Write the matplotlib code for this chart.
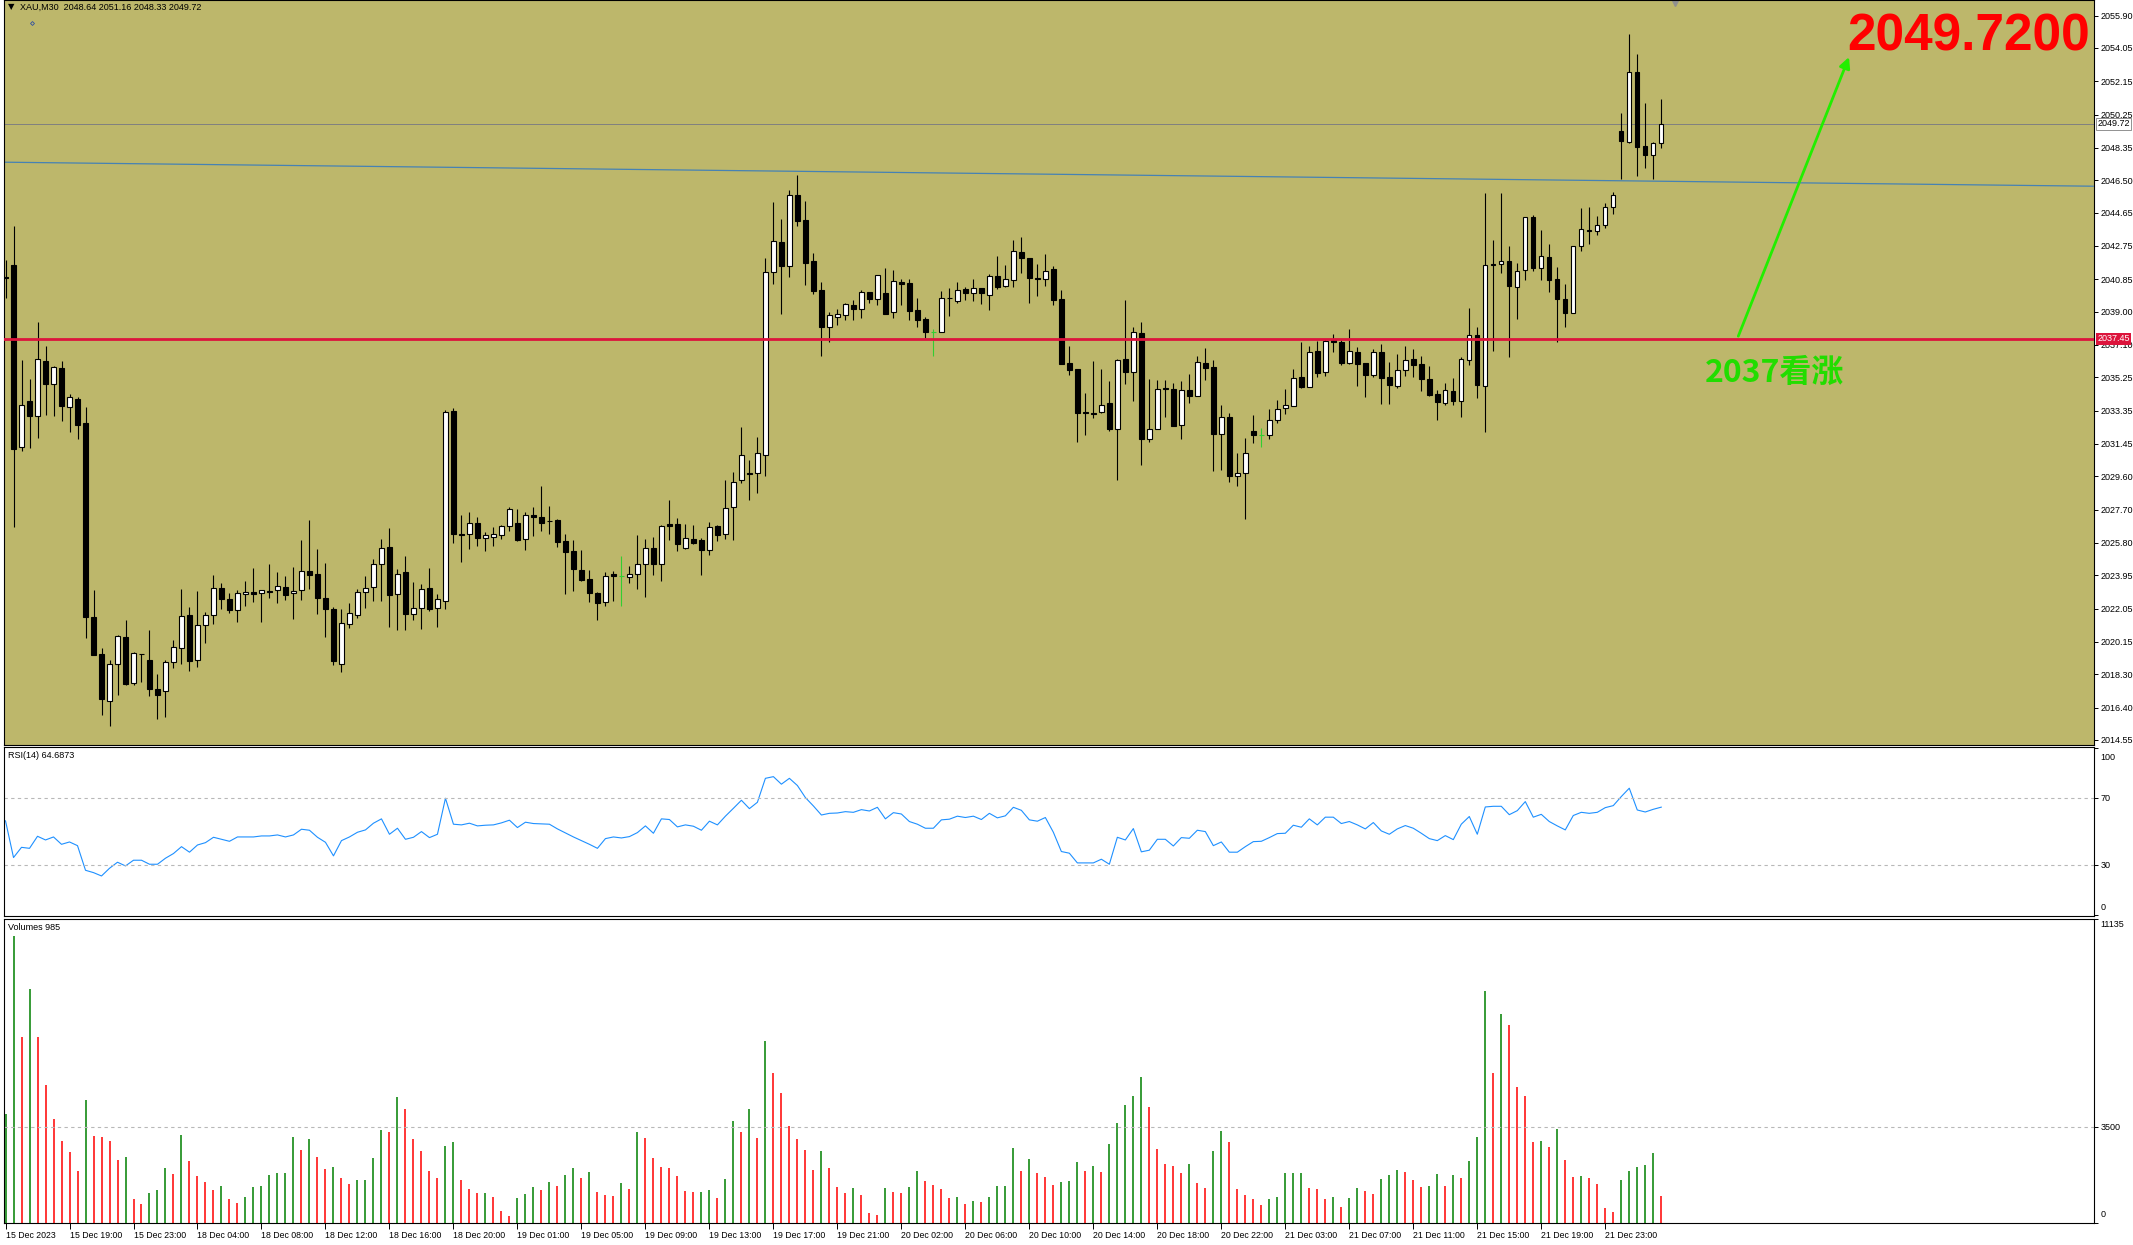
import matplotlib
matplotlib.use("Agg")
import matplotlib.pyplot as plt
import numpy as np

plt.rcParams['font.family'] = ['Liberation Sans', 'DejaVu Sans']

# XAU M30 candles
opens = [2040.95, 2041.67, 2031.26, 2033.90, 2033.07, 2036.19, 2034.89, 2035.79, 2033.58, 2034.02,
         2032.65, 2021.57, 2019.46, 2016.80, 2018.87, 2020.43, 2017.79, 2019.48, 2019.12, 2017.47,
         2017.33, 2019.01, 2019.79, 2021.69, 2019.10, 2021.10, 2021.67, 2023.21, 2022.60, 2021.96,
         2022.87, 2022.98, 2022.93, 2023.04, 2023.10, 2023.29, 2022.93, 2023.10, 2024.18, 2024.01,
         2022.66, 2022.03, 2018.90, 2021.19, 2021.70, 2022.98, 2023.30, 2024.57, 2025.54, 2022.90,
         2024.12, 2021.76, 2022.06, 2023.21, 2022.06, 2022.50, 2033.33, 2026.31, 2026.29, 2026.91,
         2026.10, 2026.16, 2026.23, 2026.74, 2026.91, 2026.04, 2027.37, 2027.28, 2027.07, 2027.09,
         2025.91, 2025.34, 2024.23, 2023.72, 2022.92, 2022.41, 2024.00, 2023.89, 2023.83, 2024.00,
         2024.57, 2025.49, 2024.57, 2026.86, 2026.86, 2025.53, 2026.01, 2025.97, 2025.38, 2026.77,
         2026.29, 2027.83, 2029.38, 2029.81, 2029.81, 2030.80, 2041.29, 2042.98, 2041.63, 2045.66,
         2044.24, 2041.89, 2040.24, 2038.15, 2038.72, 2038.83, 2039.38, 2039.17, 2040.13, 2039.71,
         2040.05, 2038.97, 2040.68, 2040.64, 2039.08, 2038.58, 2037.86, 2037.86, 2039.79, 2039.63,
         2040.28, 2040.05, 2040.34, 2039.97, 2041.02, 2040.45, 2040.79, 2042.39, 2042.05, 2040.92,
         2040.85, 2041.44, 2039.73, 2036.05, 2035.73, 2033.28, 2033.24, 2033.29, 2033.79, 2032.29,
         2036.30, 2035.58, 2037.79, 2031.72, 2032.32, 2034.65, 2034.59, 2032.55, 2034.53, 2034.21,
         2036.07, 2035.84, 2032.04, 2032.99, 2029.59, 2029.77, 2032.19, 2031.96, 2031.93, 2032.80,
         2033.48, 2033.60, 2035.25, 2034.72, 2036.76, 2035.58, 2037.36, 2037.25, 2036.09, 2036.68,
         2036.05, 2035.40, 2036.68, 2035.25, 2034.74, 2035.65, 2036.28, 2035.99, 2035.14, 2034.28,
         2033.80, 2034.49, 2033.92, 2036.22, 2037.65, 2034.74, 2041.70, 2041.70, 2041.87, 2040.38,
         2041.36, 2044.38, 2041.47, 2042.10, 2040.84, 2039.70, 2038.90, 2042.73, 2043.64, 2043.58,
         2043.93, 2044.95, 2049.29, 2048.68, 2052.66, 2048.45, 2047.96, 2048.64]
highs = [2041.95, 2043.89, 2036.24, 2035.16, 2038.41, 2037.04, 2035.90, 2036.19, 2034.30, 2034.13,
         2033.56, 2023.12, 2019.82, 2019.12, 2020.55, 2021.40, 2019.58, 2019.48, 2020.83, 2018.32,
         2019.12, 2020.26, 2023.17, 2022.11, 2023.06, 2021.88, 2023.97, 2023.52, 2022.94, 2023.12,
         2023.63, 2024.37, 2023.10, 2024.60, 2024.14, 2023.93, 2024.45, 2025.97, 2027.11, 2025.46,
         2024.66, 2022.14, 2022.03, 2022.35, 2023.15, 2023.89, 2024.88, 2026.02, 2026.63, 2024.31,
         2025.05, 2023.57, 2023.45, 2024.37, 2022.88, 2033.38, 2033.48, 2027.39, 2027.56, 2027.28,
         2026.44, 2026.71, 2026.82, 2027.85, 2027.73, 2027.56, 2027.85, 2029.05, 2027.90, 2027.16,
         2026.31, 2025.96, 2025.39, 2024.23, 2022.98, 2024.12, 2024.17, 2025.03, 2024.48, 2026.25,
         2026.02, 2026.14, 2026.82, 2028.25, 2027.21, 2026.88, 2026.83, 2026.07, 2026.98, 2026.81,
         2029.38, 2029.83, 2032.42, 2030.54, 2031.85, 2042.05, 2045.26, 2044.27, 2045.95, 2046.80,
         2045.32, 2042.35, 2040.70, 2038.97, 2039.16, 2039.52, 2039.67, 2040.24, 2040.13, 2041.08,
         2041.51, 2041.38, 2040.87, 2040.87, 2039.76, 2038.70, 2038.01, 2040.18, 2040.35, 2040.70,
         2040.43, 2040.87, 2040.34, 2041.15, 2042.18, 2041.67, 2043.09, 2043.26, 2042.05, 2041.70,
         2042.29, 2041.59, 2040.24, 2037.04, 2035.73, 2034.36, 2036.19, 2035.73, 2035.05, 2036.30,
         2039.67, 2038.13, 2038.41, 2035.16, 2035.10, 2035.10, 2034.93, 2035.05, 2035.44, 2036.47,
         2036.93, 2036.24, 2033.68, 2033.22, 2030.94, 2031.79, 2033.10, 2032.34, 2033.45, 2033.94,
         2034.59, 2035.73, 2037.27, 2037.04, 2037.33, 2037.44, 2037.72, 2037.36, 2038.01, 2036.98,
         2036.05, 2036.85, 2037.13, 2036.11, 2036.56, 2037.02, 2036.85, 2036.45, 2035.88, 2034.55,
         2034.95, 2035.19, 2036.39, 2039.19, 2038.10, 2045.75, 2043.09, 2045.75, 2042.75, 2041.77,
         2044.38, 2044.50, 2043.66, 2042.86, 2041.53, 2040.56, 2042.73, 2044.91, 2044.97, 2044.46,
         2045.20, 2045.83, 2050.34, 2054.85, 2053.70, 2050.91, 2048.70, 2051.16]
lows = [2039.80, 2026.73, 2031.07, 2031.24, 2031.81, 2033.10, 2033.07, 2032.78, 2032.15, 2031.75,
        2020.34, 2019.37, 2016.00, 2015.33, 2017.14, 2017.71, 2017.67, 2017.88, 2017.03, 2015.73,
        2015.85, 2018.63, 2018.91, 2018.46, 2018.74, 2020.07, 2021.14, 2022.00, 2021.82, 2021.31,
        2022.18, 2022.45, 2021.27, 2022.64, 2022.34, 2022.51, 2021.48, 2022.56, 2023.15, 2021.71,
        2020.45, 2018.80, 2018.40, 2020.92, 2021.53, 2022.10, 2022.50, 2022.50, 2021.02, 2020.83,
        2020.83, 2021.42, 2020.88, 2021.93, 2021.00, 2022.04, 2025.81, 2024.73, 2025.47, 2025.64,
        2025.36, 2025.64, 2026.02, 2026.50, 2025.93, 2025.41, 2026.21, 2026.50, 2026.33, 2025.58,
        2022.90, 2023.07, 2023.64, 2022.44, 2021.42, 2022.22, 2022.50, 2022.22, 2023.53, 2023.19,
        2022.73, 2023.99, 2023.64, 2025.97, 2025.36, 2025.46, 2025.74, 2023.97, 2025.11, 2025.93,
        2026.03, 2025.97, 2029.20, 2028.22, 2028.67, 2029.59, 2040.60, 2038.87, 2041.00, 2043.91,
        2040.53, 2040.03, 2036.47, 2037.29, 2038.24, 2038.53, 2038.53, 2038.66, 2039.50, 2039.35,
        2038.89, 2038.66, 2039.38, 2038.53, 2038.15, 2037.48, 2036.47, 2037.86, 2038.76, 2039.52,
        2039.67, 2039.63, 2039.46, 2039.12, 2040.30, 2040.39, 2040.43, 2041.23, 2039.52, 2039.90,
        2040.49, 2039.40, 2036.03, 2035.39, 2031.58, 2031.96, 2032.95, 2033.24, 2032.21, 2029.36,
        2034.89, 2033.87, 2030.27, 2031.53, 2032.32, 2033.01, 2032.46, 2031.75, 2033.81, 2034.21,
        2035.12, 2029.93, 2029.98, 2029.30, 2029.07, 2027.19, 2031.52, 2031.30, 2031.75, 2032.67,
        2033.16, 2033.60, 2034.66, 2034.72, 2035.29, 2035.35, 2036.71, 2035.97, 2036.03, 2034.77,
        2034.15, 2035.29, 2033.75, 2033.75, 2034.66, 2035.35, 2035.29, 2034.49, 2034.20, 2032.83,
        2033.69, 2033.69, 2033.00, 2035.97, 2034.09, 2032.11, 2036.77, 2041.19, 2036.43, 2038.60,
        2040.80, 2041.30, 2040.80, 2040.14, 2037.25, 2038.10, 2038.90, 2042.44, 2042.88, 2043.36,
        2043.75, 2044.55, 2046.59, 2048.64, 2046.76, 2047.22, 2046.59, 2048.33]
closes = [2040.90, 2031.16, 2033.66, 2033.07, 2036.28, 2034.89, 2035.83, 2033.64, 2034.11, 2032.55,
          2021.54, 2019.41, 2016.86, 2018.87, 2020.47, 2017.77, 2019.50, 2019.46, 2017.45, 2017.14,
          2018.99, 2019.84, 2021.61, 2019.08, 2021.10, 2021.69, 2023.21, 2022.58, 2021.94, 2022.94,
          2022.98, 2022.87, 2023.10, 2022.98, 2023.33, 2022.85, 2023.04, 2024.18, 2023.95, 2022.68,
          2022.00, 2019.03, 2021.21, 2021.78, 2022.98, 2023.21, 2024.57, 2025.49, 2022.84, 2024.00,
          2021.76, 2022.06, 2023.15, 2022.04, 2022.58, 2033.25, 2026.33, 2026.25, 2026.91, 2026.10,
          2026.23, 2026.29, 2026.74, 2027.71, 2025.98, 2027.37, 2027.26, 2026.95, 2027.03, 2025.87,
          2025.30, 2024.33, 2023.70, 2022.96, 2022.39, 2023.89, 2023.93, 2023.89, 2024.00, 2024.57,
          2025.49, 2024.57, 2026.74, 2026.79, 2025.72, 2026.07, 2025.82, 2025.42, 2026.69, 2026.27,
          2027.78, 2029.26, 2030.80, 2029.75, 2030.92, 2041.25, 2043.04, 2041.61, 2045.66, 2044.20,
          2041.80, 2040.20, 2038.15, 2038.79, 2038.87, 2039.42, 2039.16, 2040.13, 2039.73, 2041.08,
          2038.89, 2040.73, 2040.60, 2039.06, 2038.53, 2037.86, 2037.86, 2039.76, 2039.75, 2040.22,
          2040.09, 2040.34, 2040.05, 2041.02, 2040.43, 2040.85, 2042.45, 2042.08, 2040.94, 2040.87,
          2041.30, 2039.69, 2036.03, 2035.69, 2033.24, 2033.24, 2033.16, 2033.66, 2032.32, 2036.24,
          2035.58, 2037.84, 2031.75, 2032.29, 2034.59, 2034.57, 2032.46, 2034.53, 2034.21, 2036.13,
          2035.81, 2032.04, 2032.99, 2029.59, 2029.79, 2030.94, 2031.98, 2031.96, 2032.80, 2033.43,
          2033.66, 2035.20, 2034.72, 2036.68, 2035.52, 2037.33, 2037.25, 2036.09, 2036.73, 2036.03,
          2035.36, 2036.68, 2035.23, 2034.79, 2035.65, 2036.22, 2035.97, 2035.17, 2034.26, 2033.86,
          2034.55, 2033.92, 2036.28, 2037.65, 2034.83, 2041.64, 2041.64, 2041.87, 2040.44, 2041.30,
          2044.38, 2041.47, 2042.16, 2040.79, 2039.70, 2038.90, 2042.73, 2043.70, 2043.58, 2043.93,
          2044.95, 2045.64, 2048.72, 2052.66, 2048.42, 2047.96, 2048.62, 2049.72]

rsi = [56.5, 34.6, 40.7, 40.1, 47.3, 45.1, 46.9, 42.5, 43.9, 41.7,
       27.0, 25.6, 23.6, 28.2, 31.8, 29.6, 33.0, 33.0, 30.6, 30.6,
       34.2, 37.0, 41.1, 37.8, 42.1, 43.5, 46.7, 45.5, 44.3, 46.9,
       46.9, 46.9, 47.5, 47.5, 48.1, 46.9, 48.1, 51.5, 50.9, 46.7,
       43.7, 35.6, 44.7, 46.9, 49.7, 51.1, 55.1, 57.7, 48.5, 52.1,
       45.5, 46.7, 50.1, 46.5, 48.5, 70.0, 54.5, 54.1, 55.1, 53.5,
       53.9, 54.1, 55.3, 56.9, 52.5, 55.7, 54.9, 54.7, 54.5, 51.7,
       49.3, 46.9, 44.7, 42.5, 40.1, 45.9, 46.9, 46.3, 47.1, 49.5,
       53.5, 49.1, 57.7, 57.3, 52.9, 54.1, 53.3, 50.9, 56.3, 54.1,
       59.3, 64.0, 68.8, 63.8, 67.6, 81.9, 82.9, 78.4, 81.9, 77.6,
       70.4, 65.4, 60.0, 61.0, 61.2, 62.0, 61.6, 63.2, 62.4, 64.6,
       57.7, 61.4, 60.6, 56.1, 54.5, 52.1, 52.1, 57.1, 57.5, 59.3,
       58.5, 59.3, 57.3, 61.0, 58.3, 59.5, 64.6, 62.8, 57.1, 56.3,
       58.5, 49.7, 38.2, 37.2, 31.4, 31.4, 31.4, 33.6, 30.6, 46.7,
       45.1, 51.9, 38.0, 39.0, 45.5, 45.5, 41.5, 46.5, 46.1, 50.9,
       50.1, 41.7, 43.9, 37.8, 37.8, 41.1, 44.1, 44.3, 46.5, 48.9,
       49.1, 53.9, 52.7, 57.7, 54.1, 58.7, 58.7, 54.9, 56.1, 54.1,
       51.7, 55.5, 50.5, 48.5, 51.7, 53.7, 52.1, 49.1, 45.9, 44.7,
       47.7, 45.3, 54.5, 59.1, 48.5, 64.8, 65.2, 65.2, 60.2, 62.6,
       68.0, 58.7, 60.4, 56.1, 53.5, 51.1, 59.7, 61.6, 61.0, 61.6,
       64.4, 65.6, 71.0, 76.0, 63.0, 61.8, 63.4, 64.69]

volumes = [3988, 10524, 6805, 8561, 6805, 5049, 3805, 3000, 2598, 1902,
           4500, 3183, 3146, 3000, 2305, 2415, 878, 695, 1098, 1207,
           2012, 1793, 3219, 2268, 1720, 1500, 1207, 1354, 878, 732,
           951, 1317, 1354, 1756, 1829, 1840, 3146, 2671, 3073, 2415,
           1976, 2049, 1646, 1427, 1573, 1580, 2378, 3402, 3329, 4610,
           4171, 3073, 2634, 1902, 1646, 2817, 2963, 1573, 1244, 1098,
           1100, 951, 439, 256, 915, 1061, 1317, 1207, 1500, 1354,
           1756, 2012, 1646, 1866, 1134, 1024, 988, 1463, 1244, 3329,
           3110, 2378, 2049, 2012, 1720, 1171, 1134, 1140, 1207, 915,
           1610, 3732, 3329, 4171, 3110, 6658, 5488, 4756, 3549, 3073,
           2671, 1939, 2634, 2012, 1317, 1098, 1280, 1024, 366, 293,
           1280, 1134, 1098, 1317, 1902, 1537, 1390, 1244, 915, 951,
           695, 805, 768, 951, 1354, 1360, 2744, 1902, 2341, 1829,
           1683, 1390, 1500, 1537, 2232, 1902, 2085, 1866, 2890, 3659,
           4317, 4646, 5341, 4244, 2707, 2159, 2085, 1829, 2159, 1463,
           1280, 2634, 3366, 2963, 1244, 1024, 878, 659, 878, 951,
           1829, 1835, 1840, 1280, 1244, 878, 951, 585, 915, 1280,
           1171, 1061, 1610, 1756, 1939, 1866, 1573, 1317, 1354, 1793,
           1354, 1756, 1646, 2268, 3146, 8488, 5488, 7646, 7244, 4976,
           4646, 2963, 3000, 2780, 3439, 2305, 1683, 1720, 1646, 1427,
           549, 402, 1573, 1902, 2049, 2122, 2561, 985]

tick_bars = [0, 8, 16, 24, 32, 40, 48, 56, 64, 72, 80, 88, 96,
             104, 112, 120, 128, 136, 144, 152, 160, 168, 176, 184, 192, 200]
time_labels = ['15 Dec 2023', '15 Dec 19:00', '15 Dec 23:00', '18 Dec 04:00', '18 Dec 08:00',
               '18 Dec 12:00', '18 Dec 16:00', '18 Dec 20:00', '19 Dec 01:00', '19 Dec 05:00',
               '19 Dec 09:00', '19 Dec 13:00', '19 Dec 17:00', '19 Dec 21:00', '20 Dec 02:00',
               '20 Dec 06:00', '20 Dec 10:00', '20 Dec 14:00', '20 Dec 18:00', '20 Dec 22:00',
               '21 Dec 03:00', '21 Dec 07:00', '21 Dec 11:00', '21 Dec 15:00', '21 Dec 19:00',
               '21 Dec 23:00']
price_ticks = [2055.90, 2054.05, 2052.15, 2050.25, 2048.35, 2046.50, 2044.65, 2042.75,
               2040.85, 2039.00, 2037.10, 2035.25, 2033.35, 2031.45, 2029.60, 2027.70,
               2025.80, 2023.95, 2022.05, 2020.15, 2018.30, 2016.40, 2014.55]

red_level = 2037.45
bid = 2049.72
trend_x = [0, 261]
trend_y = [2047.53, 2046.16]

assert len(opens) == len(highs) == len(lows) == len(closes) == len(rsi) == len(volumes)

W, H = 2133, 1245
fig = plt.figure(figsize=(W / 100, H / 100), dpi=100)
fig.patch.set_facecolor('white')


def rect(top, bottom):
    # pixel rows of the screenshot -> figure fraction
    return [4 / W, 1 - bottom / H, (2094 - 4) / W, (bottom - top) / H]


ax = fig.add_axes(rect(0, 745))
ax_rsi = fig.add_axes(rect(747, 916), sharex=ax)
ax_vol = fig.add_axes(rect(919, 1223), sharex=ax)

x = np.arange(len(opens))
o, h, l, c = (np.array(v) for v in (opens, highs, lows, closes))
doji = o == c
up = c > o
down = c < o

# --- price panel ---
ax.set_facecolor('#BDB76B')
ax.vlines(x[~doji], l[~doji], h[~doji], color='black', lw=0.8, zorder=2)
ax.vlines(x[doji], l[doji], h[doji], color='#32CD32', lw=0.8, zorder=2)
ax.hlines(c[doji], x[doji] - 0.3, x[doji] + 0.3, color='#32CD32', lw=0.8, zorder=3)
ax.bar(x[up], (c - o)[up], bottom=o[up], width=0.55, color='white',
       edgecolor='black', lw=0.8, zorder=3)
ax.bar(x[down], (o - c)[down], bottom=c[down], width=0.55, color='black',
       edgecolor='black', lw=0.8, zorder=3)

ax.axhline(red_level, color='#DC143C', lw=2.0, zorder=4)
ax.axhline(bid, color='#808080', lw=0.7, zorder=1)
ax.plot(trend_x, trend_y, color='#4682B4', lw=0.9, zorder=1)

ax.set_xlim(-0.19, 261.1)
ax.set_ylim(2014.26, 2056.79)
ax.yaxis.tick_right()
ax.set_yticks(price_ticks)
ax.set_yticklabels(['%.2f' % p for p in price_ticks])
ax.tick_params(axis='y', length=3, width=0.7, labelsize=6.5, pad=2)
ax.tick_params(axis='x', bottom=False, labelbottom=False)

lbl = dict(transform=ax.get_yaxis_transform(), fontsize=6.5, va='center', ha='left',
           clip_on=False, zorder=6)
ax.text(1.0015, red_level, '%.2f' % red_level, color='white',
        bbox=dict(boxstyle='square,pad=0.15', fc='#DC143C', ec='none'), **lbl)
ax.text(1.0015, bid, '%.2f' % bid, color='black',
        bbox=dict(boxstyle='square,pad=0.15', fc='white', ec='#808080', lw=0.6), **lbl)

# annotations drawn on the chart
ax.text(230.3, 2053.92, '2049.7200', color='#FF0000', fontsize=37, fontweight='bold',
        ha='left', va='baseline', zorder=7, clip_on=False)
ax.text(212.4, 2034.97, '2037看涨', color='#22DD00', fontsize=23, fontweight='bold',
        ha='left', va='baseline', family=['Noto Sans CJK SC', 'DejaVu Sans'], zorder=7)
ax.annotate('', xy=(230.6, 2053.68), xytext=(216.5, 2037.45),
            arrowprops=dict(arrowstyle='-|>', color='#22EE00', lw=2.0, mutation_scale=16),
            zorder=7)
ax.plot([208.7], [2056.6], marker='v', color='#909090', ms=4, clip_on=False)
ax.plot([3.3], [2055.48], marker='D', mfc='none', mec='#3050A0', ms=2, mew=0.6)

# --- RSI panel ---
ax_rsi.set_facecolor('white')
ax_rsi.plot(x, rsi, color='#1E90FF', lw=0.8)
for lev in (70, 30):
    ax_rsi.axhline(lev, color='#B8B8B8', lw=0.8, ls=(0, (3, 3)))
ax_rsi.set_ylim(-0.3, 100.6)
ax_rsi.yaxis.tick_right()
ax_rsi.set_yticks([0, 30, 70, 100])
ax_rsi.set_yticklabels([])
ax_rsi.tick_params(axis='y', length=3, width=0.7)
ax_rsi.tick_params(axis='x', bottom=False, labelbottom=False)
rt = dict(transform=ax_rsi.get_yaxis_transform(), fontsize=6.5, ha='left', clip_on=False)
ax_rsi.text(1.003, 97, '100', va='top', **rt)
ax_rsi.text(1.003, 70, '70', va='center', **rt)
ax_rsi.text(1.003, 30, '30', va='center', **rt)
ax_rsi.text(1.003, 2, '0', va='bottom', **rt)

# --- volume panel ---
vols = np.array(volumes)
vol_colors = ['#008000' if i == 0 or vols[i] > vols[i - 1] else '#FF0000' for i in range(len(vols))]
ax_vol.set_facecolor('white')
ax_vol.vlines(x, 0, vols, colors=vol_colors, lw=1.1)
ax_vol.axhline(3500, color='#B8B8B8', lw=0.8, ls=(0, (3, 3)))
ax_vol.set_ylim(0, 11135)
ax_vol.yaxis.tick_right()
ax_vol.set_yticks([0, 3500, 11135])
ax_vol.set_yticklabels([])
ax_vol.tick_params(axis='y', length=3, width=0.7)
vt = dict(transform=ax_vol.get_yaxis_transform(), fontsize=6.5, ha='left', clip_on=False)
ax_vol.text(1.003, 11100, '11135', va='top', **vt)
ax_vol.text(1.003, 3500, '3500', va='center', **vt)
ax_vol.text(1.003, 150, '0', va='bottom', **vt)

ax_vol.set_xticks(tick_bars)
ax_vol.set_xticklabels(time_labels, ha='left', fontsize=6.3)
ax_vol.tick_params(axis='x', length=4, width=0.7, pad=2, direction='out')

for a in (ax, ax_rsi, ax_vol):
    for s in a.spines.values():
        s.set_color('black')
        s.set_linewidth(0.8)

# panel captions
fig.text(8 / W, 1 - 7 / H, '\u25bc', fontsize=6, va='center', family=['DejaVu Sans'])
fig.text(20 / W, 1 - 7 / H, 'XAU,M30  2048.64 2051.16 2048.33 2049.72', fontsize=6.5, va='center')
fig.text(8 / W, 1 - 756 / H, 'RSI(14) 64.6873', fontsize=6.5, va='center')
fig.text(8 / W, 1 - 928 / H, 'Volumes 985', fontsize=6.5, va='center')

fig.savefig('out.png', dpi=100, facecolor='white')
